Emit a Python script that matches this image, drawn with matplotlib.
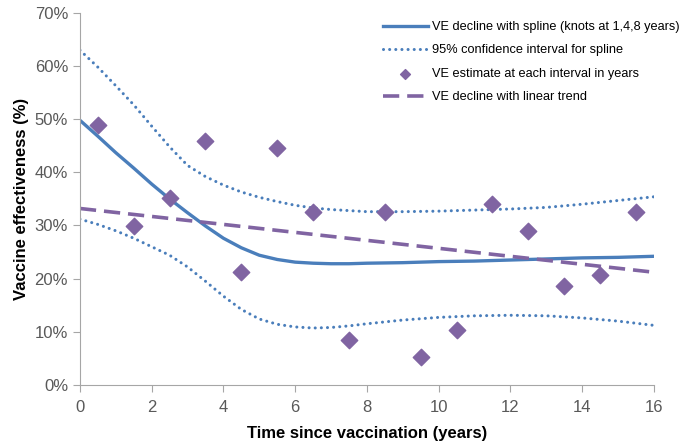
import matplotlib.pyplot as plt
from matplotlib.ticker import FuncFormatter

plt.rcParams['font.family'] = ['Liberation Sans', 'DejaVu Sans']

# VE estimates at each interval (years since vaccination, %)
interval_years = [0.5, 1.5, 2.5, 3.5, 4.5, 5.5, 6.5, 7.5, 8.5, 9.5, 10.5, 11.5, 12.5, 13.5, 14.5, 15.5]
ve_estimate = [48.9, 29.9, 35.2, 45.9, 21.3, 44.6, 32.6, 8.5, 32.6, 5.3, 10.4, 34.1, 29.0, 18.6, 20.7, 32.6]

# spline fit with 95% CI
spline_years = [0, 0.5, 1, 1.5, 2, 2.5, 3, 3.5, 4, 4.5, 5, 5.5, 6, 6.5, 7, 7.5, 8,
                9, 10, 11, 12, 13, 14, 15, 16]
spline_ve = [49.8, 46.8, 43.7, 40.8, 37.8, 35.0, 32.4, 29.9, 27.6, 25.8, 24.4, 23.6, 23.1, 22.9, 22.8, 22.8, 22.9,
             23.0, 23.2, 23.3, 23.5, 23.7, 23.9, 24.0, 24.2]
spline_upper = [63.0, 59.8, 56.3, 52.7, 48.7, 44.8, 41.3, 39.2, 37.6, 36.3, 35.3, 34.5, 33.8, 33.3, 33.0, 32.8, 32.6,
                32.6, 32.7, 32.9, 33.1, 33.4, 34.0, 34.7, 35.4]
spline_lower = [31.2, 30.2, 29.0, 27.6, 26.0, 24.4, 22.2, 19.5, 16.7, 14.2, 12.4, 11.4, 10.9, 10.7, 10.8, 11.1, 11.5,
                12.2, 12.7, 13.0, 13.1, 13.0, 12.6, 12.0, 11.2]

# linear trend
trend_years = [0, 16]
trend_ve = [33.2, 21.2]

blue = '#4a7ebb'
purple = '#8064a2'

fig = plt.figure(figsize=(6.89, 4.47), dpi=100)
ax = fig.add_axes([0.116, 0.139, 0.833, 0.832])

dotted = (0, (0.01, 2.0))
ax.plot(spline_years, spline_ve, color=blue, lw=2.4, label='VE decline with spline (knots at 1,4,8 years)')
ax.plot(spline_years, spline_upper, color=blue, lw=2.2, linestyle=dotted, dash_capstyle='round',
        label='95% confidence interval for spline')
ax.plot(spline_years, spline_lower, color=blue, lw=2.2, linestyle=dotted, dash_capstyle='round')
ax.scatter(interval_years, ve_estimate, marker='D', s=70, color=purple, zorder=3,
           label='VE estimate at each interval in years')
ax.plot(trend_years, trend_ve, color=purple, lw=2.6, linestyle=(0, (4.5, 2.2)),
        label='VE decline with linear trend')

ax.set_xlim(0, 16)
ax.set_ylim(0, 70)
ax.set_xticks(range(0, 17, 2))
ax.set_yticks(range(0, 71, 10))
ax.yaxis.set_major_formatter(FuncFormatter(lambda v, p: f'{v:.0f}%'))
for s in ['top', 'right']:
    ax.spines[s].set_visible(False)
for s in ['left', 'bottom']:
    ax.spines[s].set_color('#a6a6a6')
ax.tick_params(colors='#a6a6a6', labelcolor='#595959', labelsize=12, length=5)
ax.tick_params(axis='x', pad=6)

ax.set_xlabel('Time since vaccination (years)', fontsize=12, fontweight='bold', labelpad=8)
ax.set_ylabel('Vaccine effectiveness (%)', fontsize=12, fontweight='bold')

leg = fig.legend(*ax.get_legend_handles_labels(), loc='upper left',
                 bbox_to_anchor=(383 / 689, 1 - 21 / 447), frameon=False, fontsize=9.2,
                 borderpad=0, borderaxespad=0, handlelength=3.5, handletextpad=0.3,
                 labelspacing=0.9, scatterpoints=1)
leg.legend_handles[2].set_sizes([25])

fig.savefig('out.png', dpi=100)
